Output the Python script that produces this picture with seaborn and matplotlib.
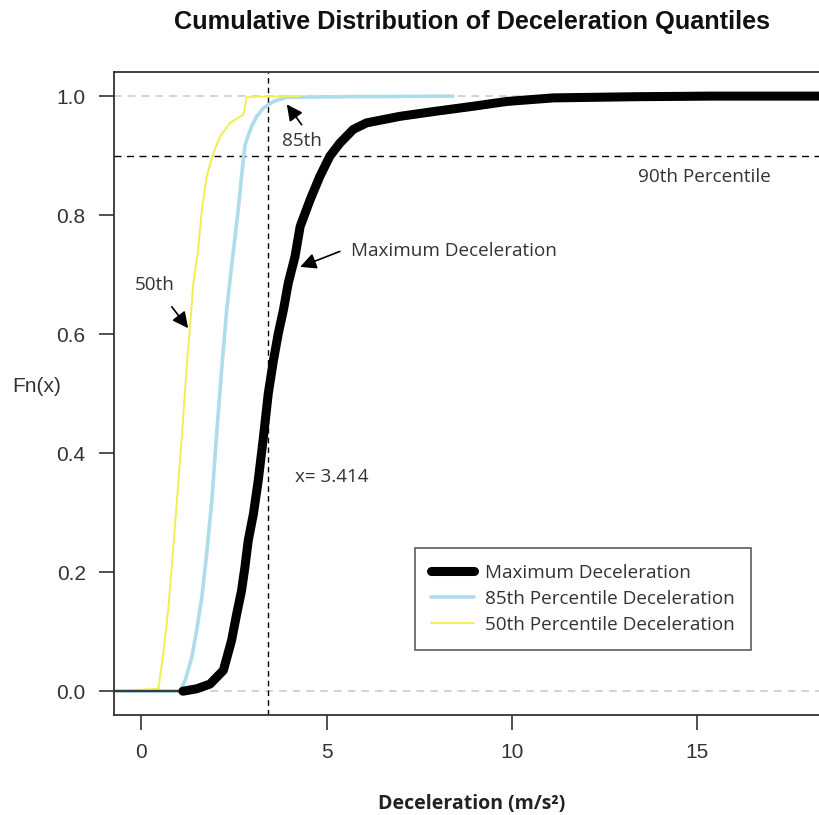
import matplotlib
matplotlib.use("Agg")
import matplotlib.pyplot as plt
import seaborn as sns
import pandas as pd

# ---- data ----
max_x = [1.13, 1.50, 1.86, 2.22, 2.44, 2.58, 2.71, 2.80, 2.89, 3.03, 3.16, 3.30, 3.43, 3.57,
         3.70, 3.84, 3.97, 4.15, 4.29, 4.56, 4.82, 5.09, 5.36, 5.72, 6.08, 6.98, 7.88, 8.60,
         8.96, 9.86, 11.11, 13.36, 15.43, 18.7]
max_y = [0.000, 0.004, 0.012, 0.035, 0.085, 0.130, 0.169, 0.208, 0.253, 0.298, 0.354, 0.427,
         0.500, 0.556, 0.601, 0.641, 0.686, 0.730, 0.781, 0.826, 0.865, 0.899, 0.921, 0.944,
         0.955, 0.966, 0.974, 0.980, 0.983, 0.991, 0.997, 0.999, 1.000, 1.000]

p85_x = [-0.8, 1.05, 1.19, 1.37, 1.50, 1.64, 1.77, 1.91, 2.04, 2.18, 2.31, 2.44, 2.62, 2.71,
         2.80, 2.85, 2.98, 3.12, 3.30, 3.57, 3.93, 5.54, 8.41]
p85_y = [0.000, 0.000, 0.018, 0.057, 0.102, 0.158, 0.231, 0.321, 0.433, 0.545, 0.641, 0.713,
         0.809, 0.865, 0.916, 0.927, 0.949, 0.966, 0.980, 0.991, 0.998, 0.999, 1.000]

p50_x = [-0.8, 0.47, 0.60, 0.74, 0.87, 1.01, 1.10, 1.23, 1.32, 1.41, 1.54, 1.64, 1.77, 1.95,
         2.13, 2.40, 2.76, 2.81, 2.84, 3.03, 4.29]
p50_y = [0.000, 0.004, 0.063, 0.141, 0.242, 0.354, 0.427, 0.545, 0.612, 0.686, 0.742, 0.809,
         0.865, 0.904, 0.932, 0.955, 0.969, 0.983, 0.998, 0.999, 1.000]

x_ticks = [0, 5, 10, 15]
y_ticks = [0.0, 0.2, 0.4, 0.6, 0.8, 1.0]
median_x = 3.414
pct90 = 0.9
series_labels = ["Maximum Deceleration", "85th Percentile Deceleration", "50th Percentile Deceleration"]

# ---- styling ----
sns.set_theme(style="white")
plt.rcParams["font.family"] = ["Liberation Sans", "DejaVu Sans"]
ann_font = ["Open Sans", "DejaVu Sans"]
txt_col = "#333333"
fs_ann = 13.6

fig = plt.figure(figsize=(8.2, 8.15), dpi=100)
ax = fig.add_axes([113.5 / 820, 1 - 715 / 815, (831 - 113.5) / 820, (715 - 72.3) / 815])

# reference lines
ax.axhline(0, color="#c8c8c8", lw=1.1, ls=(0, (5, 4)), zorder=1)
ax.axhline(1, color="#c8c8c8", lw=1.1, ls=(0, (5, 4)), zorder=1)
ax.axhline(pct90, color="black", lw=1.0, ls=(0, (5, 4)), zorder=1)
ax.axvline(median_x, color="black", lw=1.0, ls=(0, (4, 3)), zorder=1)

d_max = pd.DataFrame({"x": max_x, "y": max_y})
d_85 = pd.DataFrame({"x": p85_x, "y": p85_y})
d_50 = pd.DataFrame({"x": p50_x, "y": p50_y})

sns.lineplot(data=d_max, x="x", y="y", sort=False, estimator=None, color="black",
             lw=6.5, label=series_labels[0], ax=ax, zorder=3)
sns.lineplot(data=d_85, x="x", y="y", sort=False, estimator=None, color="#aedcea",
             lw=2.6, label=series_labels[1], ax=ax, zorder=2)
sns.lineplot(data=d_50, x="x", y="y", sort=False, estimator=None, color="#f2ee50",
             lw=1.4, label=series_labels[2], ax=ax, zorder=2)
# thin dark base line at y=0 left of the curves
ax.plot([-0.8, 1.3], [0, 0], color="#3a3a3a", lw=1.6, zorder=2.5)

ax.set_xlim((113.5 - 141) / 37.1, (831 - 141) / 37.1)
ax.set_ylim(-0.04, 1.04)
ax.set_xticks(x_ticks)
ax.set_xticklabels([str(t) for t in x_ticks])
ax.set_yticks(y_ticks)
ax.set_yticklabels([f"{t:.1f}" for t in y_ticks])
ax.tick_params(axis="both", direction="out", length=11, width=1.2, color="#333333",
               labelsize=15, labelcolor="#333333", bottom=True, left=True)
ax.tick_params(axis="x", pad=9)
ax.tick_params(axis="y", pad=9)
for s in ["left", "bottom", "top"]:
    ax.spines[s].set_color("#333333")
    ax.spines[s].set_linewidth(1.3)
ax.spines["right"].set_visible(False)

ax.set_xlabel("Deceleration (m/s²)", fontsize=14, fontweight="bold", family=ann_font,
              color="#222222", labelpad=18)
ax.xaxis.set_label_coords((472 - 113.5) / (831 - 113.5), -(804 - 715) / 642.7)
ax.set_ylabel("Fn(x)", fontsize=15, rotation=0, color="#333333", labelpad=0)
ax.yaxis.set_label_coords(-(113.5 - 37) / 717.5, (715 - 387) / 642.7)
ax.yaxis.label.set_va("center")
ax.yaxis.label.set_ha("center")
ax.xaxis.label.set_va("center")
fig.text(472 / 820, 1 - 22 / 815, "Cumulative Distribution of Deceleration Quantiles",
         ha="center", va="center", fontsize=18.2, fontweight="bold", color="#111111")

# annotations (arrows drawn from tail to tip, text placed separately)
arrow = dict(arrowstyle="-|>", color="black", lw=1.2, mutation_scale=24, shrinkA=0, shrinkB=0)
ax.annotate("", xy=(3.93, 0.986), xytext=(4.33, 0.952), arrowprops=arrow)
ax.text(4.33, 0.925, "85th", ha="center", va="center", fontsize=fs_ann, family=ann_font,
        color=txt_col)
ax.annotate("", xy=(4.29, 0.713), xytext=(5.36, 0.739), arrowprops=arrow)
ax.text(5.66, 0.740, "Maximum Deceleration", ha="left", va="center", fontsize=fs_ann,
        family=ann_font, color=txt_col)
ax.annotate("", xy=(1.27, 0.61), xytext=(0.83, 0.646), arrowprops=arrow)
ax.text(0.38, 0.683, "50th", ha="center", va="center", fontsize=fs_ann, family=ann_font,
        color=txt_col)
ax.text(15.2, 0.864, "90th Percentile", ha="center", va="center", fontsize=fs_ann,
        family=ann_font, color=txt_col)
ax.text(4.15, 0.36, "x= 3.414", ha="left", va="center", fontsize=fs_ann, family=ann_font,
        color=txt_col)

leg = ax.legend(loc="upper left",
                bbox_to_anchor=((415 - 113.5) / 717.5, 1 - (548 - 72.3) / 642.7),
                frameon=True, fancybox=False, prop={"family": ann_font, "size": fs_ann},
                handlelength=2.3, borderpad=0.85, labelspacing=0.42, handletextpad=0.55,
                borderaxespad=0)
leg.get_frame().set_edgecolor("#333333")
leg.get_frame().set_linewidth(1.2)
for t in leg.get_texts():
    t.set_color(txt_col)

fig.savefig("out.png", dpi=100)
